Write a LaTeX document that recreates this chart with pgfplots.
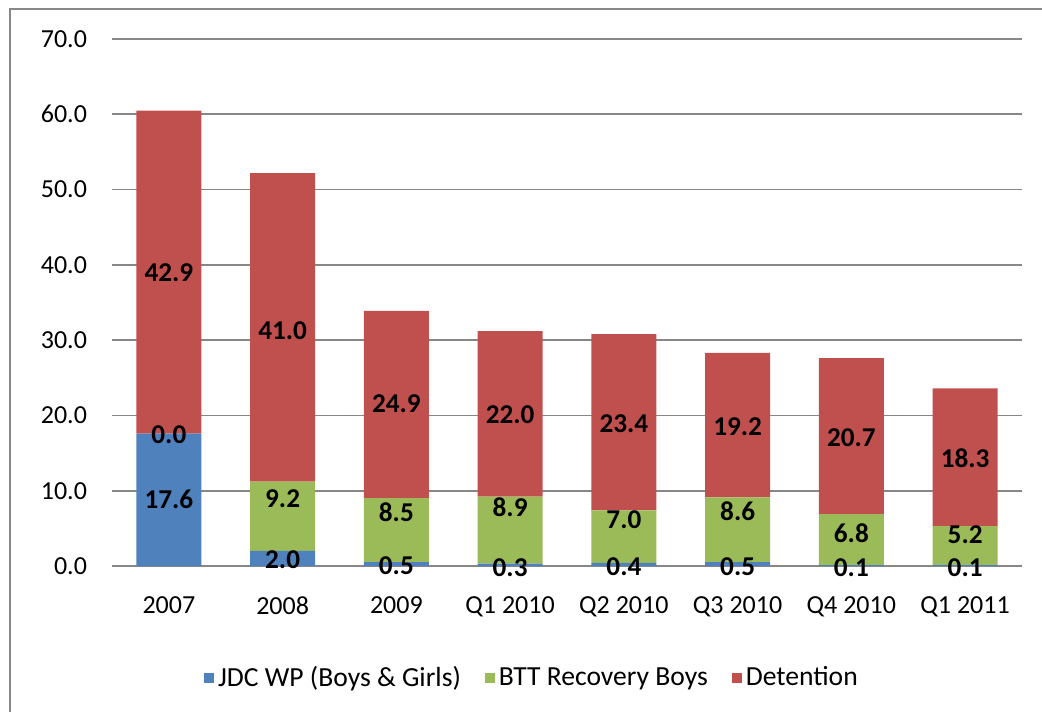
\documentclass[border=0pt]{standalone}
\usepackage{pgfplots}
\pgfplotsset{compat=1.18}
\usepackage{pgfplotstable}
\usepackage{fontspec}
\setmainfont{Carlito}

\definecolor{jdc}{HTML}{4F81BD}
\definecolor{btt}{HTML}{9BBB59}
\definecolor{det}{HTML}{C0504D}
\definecolor{gridgray}{HTML}{878787}

% x index, JDC WP, BTT Recovery, Detention
\pgfplotstableread{
x jdc btt det
0 17.6 0.0 42.9
1 2.0 9.2 41.0
2 0.5 8.5 24.9
3 0.3 8.9 22.0
4 0.4 7.0 23.4
5 0.5 8.6 19.2
6 0.1 6.8 20.7
7 0.1 5.2 18.3
}\data

% where the value labels sit
\pgfplotstableread{
x ljdc lbtt ldet
0 8.8 17.5 39.0
1 0.9 9.0 31.3
2 0.1 7.2 21.5
3 -0.2 7.8 20.1
4 -0.1 6.1 18.9
5 -0.1 7.3 18.5
6 -0.2 4.4 17.1
7 -0.2 4.1 14.3
}\labels

\pgfplotsset{
  common/.style={
    scale only axis,
    width=455pt, height=263.5pt,
    xmin=-0.5, xmax=7.5,
    ymin=0, ymax=70,
    font=\fontsize{13}{15}\selectfont,
  },
}

\begin{document}
\begin{tikzpicture}
\useasboundingbox (-56pt,-72.5pt) rectangle (465pt,283pt);
\draw[gridgray, line width=1pt] (-51pt,-80pt) -- (-51pt,278.5pt) -- (470pt,278.5pt);

\begin{axis}[
  common,
  ybar stacked,
  bar width=32.5pt,
  axis line style={draw=none},
  axis x line*=bottom,
  ymajorgrids,
  grid style={gridgray, line width=0.8pt},
  ytick={0,10,...,70},
  xtick={0,...,7},
  xticklabels={2007,2008,2009,Q1 2010,Q2 2010,Q3 2010,Q4 2010,Q1 2011},
  major tick length=0pt,
  yticklabel style={/pgf/number format/fixed, /pgf/number format/fixed zerofill,
    /pgf/number format/precision=1, /pgf/number format/assume math mode=true, xshift=-9pt},
  xticklabel style={yshift=-12pt},
  legend style={at={(0.4626,-0.212)}, anchor=center, draw=none, fill=none,
    legend columns=-1,
    /tikz/every even column/.append style={column sep=10pt},
    nodes={inner xsep=2pt},
    font=\fontsize{13.8}{16}\selectfont},
  legend image code/.code={\fill[#1] (0pt,-2.5pt) rectangle (5pt,2.5pt);},
]
\addplot[fill=jdc, draw=none] table[x=x, y=jdc] {\data};
\addplot[fill=btt, draw=none] table[x=x, y=btt] {\data};
\addplot[fill=det, draw=none] table[x=x, y=det] {\data};
\draw[gridgray, line width=0.8pt] (axis cs:-0.5,0) -- (axis cs:7.5,0);
\legend{JDC WP (Boys \& Girls), BTT Recovery Boys, Detention}
\end{axis}

\pgfplotstablecreatecol[copy column from table={\data}{jdc}]{vjdc}\labels
\pgfplotstablecreatecol[copy column from table={\data}{btt}]{vbtt}\labels
\pgfplotstablecreatecol[copy column from table={\data}{det}]{vdet}\labels

\begin{axis}[
  common,
  hide axis,
  clip=false,
  nodes near coords={\pgfmathprintnumber[fixed,fixed zerofill,precision=1,assume math mode=true]{\pgfplotspointmeta}},
  every node near coord/.append style={font=\fontsize{13.6}{15}\selectfont\bfseries, anchor=center, inner sep=0pt},
  point meta=explicit,
]
\addplot[draw=none, mark=none] table[x=x, y=ljdc, meta=vjdc] {\labels};
\addplot[draw=none, mark=none] table[x=x, y=lbtt, meta=vbtt] {\labels};
\addplot[draw=none, mark=none] table[x=x, y=ldet, meta=vdet] {\labels};
\end{axis}
\end{tikzpicture}
\end{document}
